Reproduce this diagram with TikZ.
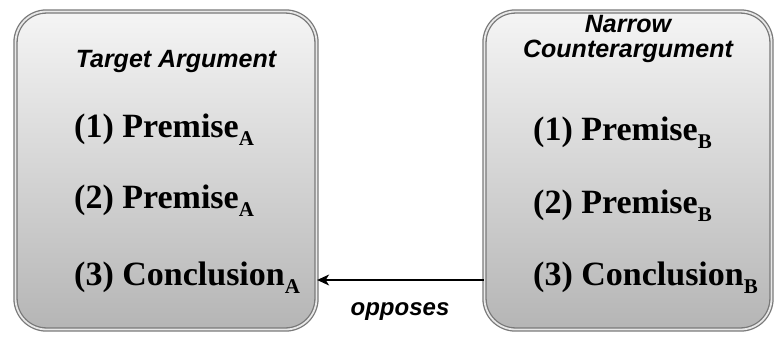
\documentclass[tikz,border=0pt]{standalone}
\usepackage{fontspec}
\setmainfont{Liberation Serif}
\setsansfont{Liberation Sans}
\usetikzlibrary{arrows.meta,shadings}
\newcommand{\subl}[1]{\raisebox{-0.26em}{\fontsize{21}{21}\selectfont #1}}
\tikzset{
  argbox/.style={rectangle, rounded corners=31pt, draw=gray!95!black,
    double=gray!18, double distance=1.8pt, line width=1.3pt,
    top color=gray!8, bottom color=gray!58, inner sep=0pt},
  headtext/.style={font=\sffamily\bfseries\itshape\fontsize{25}{25}\selectfont, align=center, inner sep=0pt},
  itemtext/.style={font=\rmfamily\bfseries\fontsize{34}{34}\selectfont, anchor=base west, inner sep=0pt},
  oppose/.style={-{Stealth[length=12pt,width=11pt,inset=3.5pt]}, line width=1.1pt, black}
}
\begin{document}
\begin{tikzpicture}[x=1pt,y=-1pt]
\useasboundingbox (0,0) rectangle (778,337);
% the two argument boxes
\node[argbox, minimum width=301pt, minimum height=318pt] (A) at (166,170.5) {};
\node[argbox, minimum width=287pt, minimum height=318pt] (B) at (628,170.5) {};
% target argument
\node[headtext, anchor=base] (ta) at (176,67) {Target Argument};
\node[itemtext] (a1) at (74,137) {(1) Premise\subl{A}};
\node[itemtext] (a2) at (74,208) {(2) Premise\subl{A}};
\node[itemtext] (a3) at (74,285) {(3) Conclusion\subl{A}};
% counterargument
\node[headtext, anchor=base] (nc) at (628,58) {Narrow\\Counterargument};
\node[itemtext] (b1) at (533,140) {(1) Premise\subl{B}};
\node[itemtext] (b2) at (533,213) {(2) Premise\subl{B}};
\node[itemtext] (b3) at (533,285) {(3) Conclusion\subl{B}};
% relation between the arguments
\coordinate (lvl) at (400,280);
\draw[oppose] (B.west |- lvl) -- (A.east |- lvl);
\node[headtext, anchor=base, font=\sffamily\bfseries\itshape\fontsize{24}{24}\selectfont] (op) at (400,315) {opposes};
\end{tikzpicture}
\end{document}
